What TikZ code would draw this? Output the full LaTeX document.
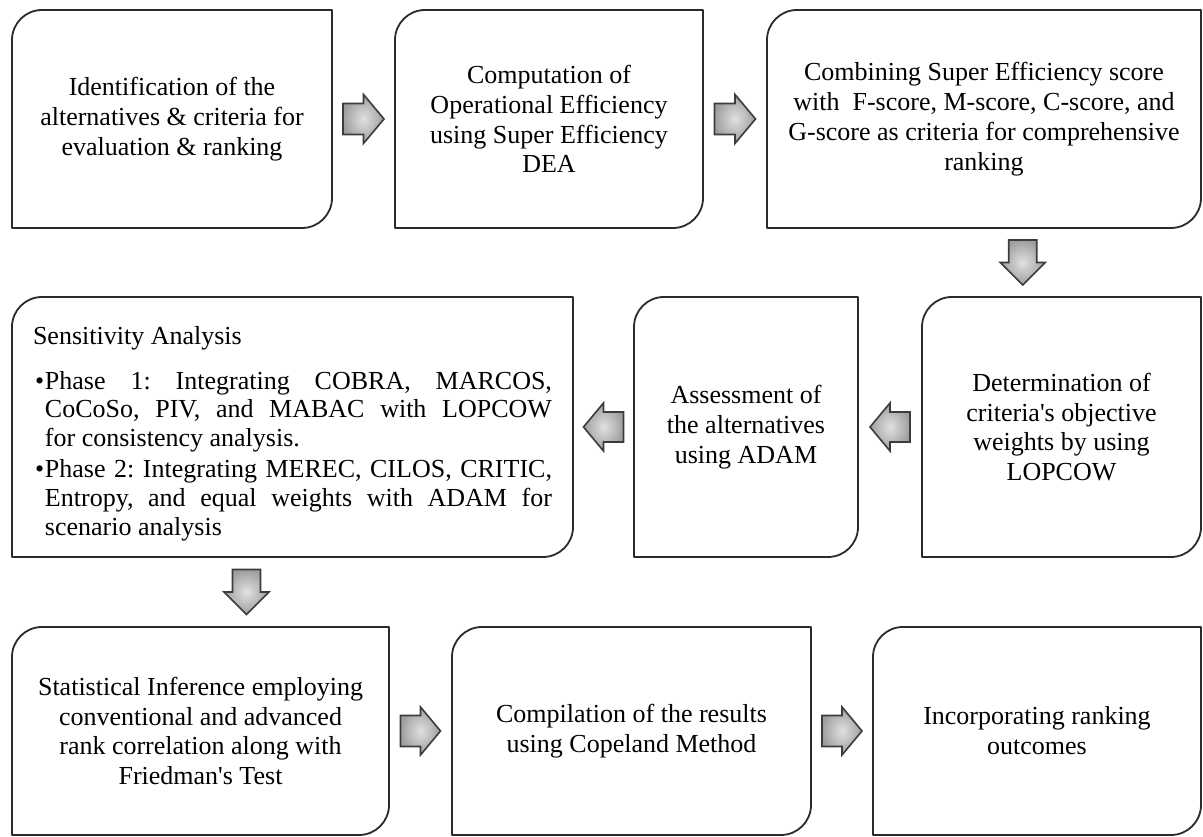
\documentclass[tikz,border=0pt]{standalone}
\usepackage{fontspec}
\setmainfont{Liberation Serif}
\usetikzlibrary{calc}
\frenchspacing
\definecolor{edge}{HTML}{2B2B2B}
\definecolor{arrowedge}{HTML}{3C3C3C}
\tikzset{
  boxline/.style={draw=edge, line width=1.8pt, line join=round},
  stepnode/.style={rectangle, inner sep=0pt, outer sep=0pt, align=center,
    font=\fontsize{26}{29.8}\selectfont},
  blockarr/.style={draw=arrowedge, line width=1.6pt, line join=miter,
    shading=radial, inner color=black!12, outer color=black!38},
}
\newcommand\drawbox[1]{%
  \draw[boxline] (#1.south west) -- ([yshift=-30pt]#1.north west)
    arc[start angle=180,end angle=90,radius=30pt] -- (#1.north east)
    -- ([yshift=30pt]#1.south east)
    arc[start angle=0,end angle=-90,radius=30pt] -- cycle;}
% #1 centre coordinate, #2 rotation, #3 length, #4 head width, #5 shaft width
\newcommand\blockarrow[5]{%
  \shadedraw[blockarr, shift={(#1)}, rotate=#2]
    ({-#3/2},{-#5/2}) -- (0,{-#5/2}) -- (0,{-#4/2}) -- ({#3/2},0)
    -- (0,{#4/2}) -- (0,{#5/2}) -- ({-#3/2},{#5/2}) -- cycle;}
\begin{document}
\begin{tikzpicture}[x=1pt,y=1pt]
\fill[white] (0,0) rectangle (1203,837);
\useasboundingbox (0,0) rectangle (1203,837);

% Row 1
\node[stepnode, minimum width=320pt, minimum height=218pt] (b1) at (172,718)
  {Identification of the\\alternatives \& criteria for\\evaluation \& ranking};
\node[stepnode, minimum width=308pt, minimum height=218pt] (b2) at (549,718)
  {Computation of\\Operational Efficiency\\using Super Efficiency\\DEA};
\node[stepnode, minimum width=434pt, minimum height=218pt] (b3) at (984,718)
  {Combining Super Efficiency score\\with\ \ F-score, M-score, C-score, and\\G-score as criteria for comprehensive\\ranking};

% Row 2
\node[stepnode, minimum width=561pt, minimum height=260pt] (b4) at (292.5,410) {};
\node[stepnode, anchor=base west] (t4) at (33,492)
  {\parbox[t]{519pt}{\fontsize{26}{28.8}\selectfont\frenchspacing
   Sensitivity Analysis\par
   \vspace{15.4pt}
   \hspace*{2pt}\makebox[10pt][l]{\textbullet}\makebox[507pt][s]{Phase 1: Integrating COBRA, MARCOS,}\par
   \hspace*{12pt}\makebox[507pt][s]{CoCoSo, PIV, and MABAC with LOPCOW}\par
   \hspace*{12pt}for consistency analysis.\par
   \vspace{2.4pt}
   \hspace*{2pt}\makebox[10pt][l]{\textbullet}\makebox[507pt][s]{Phase 2: Integrating MEREC, CILOS, CRITIC,}\par
   \hspace*{12pt}\makebox[507pt][s]{Entropy, and equal weights with ADAM for}\par
   \hspace*{12pt}scenario analysis}};
\node[stepnode, minimum width=224pt, minimum height=260pt] (b5) at (746,410)
  {Assessment of\\the alternatives\\using ADAM};
\node[stepnode, minimum width=279pt, minimum height=260pt] (b6) at (1061.5,410)
  {Determination of\\criteria\textquotesingle s objective\\weights by using\\LOPCOW};

% Row 3
\node[stepnode, minimum width=377pt, minimum height=208pt] (b7) at (200.5,106)
  {Statistical Inference employing\\conventional and advanced\\rank correlation along with\\Friedman\textquotesingle s Test};
\node[stepnode, minimum width=359pt, minimum height=208pt] (b8) at (631.5,106)
  {Compilation of the results\\using Copeland Method};
\node[stepnode, minimum width=328pt, minimum height=208pt] (b9) at (1037,106)
  {Incorporating ranking\\outcomes};

\foreach \b in {b1,b2,b3,b4,b5,b6,b7,b8,b9} {\drawbox{\b}}

% arrow positions
\coordinate (a12) at ($(b1.east)!0.5!(b2.west)$);
\coordinate (a23) at ($(b2.east)!0.5!(b3.west)$);
\coordinate (a36) at ($(b3.south)!0.5!(b6.north)$);
\coordinate (a65) at ($(b6.west)!0.5!(b5.east)$);
\coordinate (a54) at ($(b5.west)!0.5!(b4.east)$);
\coordinate (a47) at ($(b4.south)!0.5!(b7.north)$);
\coordinate (a78) at ($(b7.east)!0.5!(b8.west)$);
\coordinate (a89) at ($(b8.east)!0.5!(b9.west)$);

\blockarrow{a12}{0}{41}{49}{31}
\blockarrow{a23}{0}{41}{49}{31}
\blockarrow{a36}{-90}{45}{45}{28}
\blockarrow{a65}{180}{40}{48}{30}
\blockarrow{a54}{180}{40}{48}{30}
\blockarrow{a47}{-90}{45}{45}{28}
\blockarrow{a78}{0}{40}{48}{31}
\blockarrow{a89}{0}{40}{48}{31}
\end{tikzpicture}
\end{document}
